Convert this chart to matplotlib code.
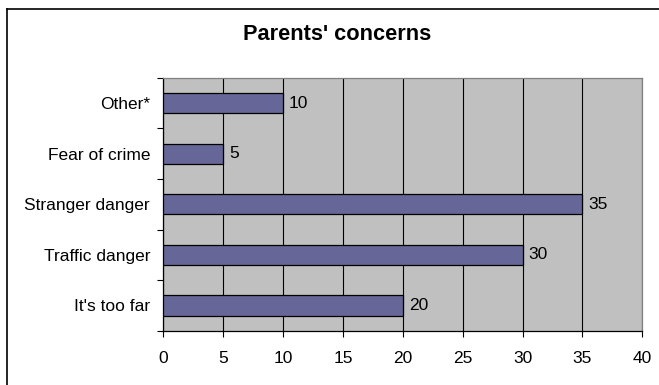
import matplotlib
matplotlib.use('Agg')
import matplotlib.pyplot as plt
from matplotlib.lines import Line2D
import numpy as np

plt.rcParams['font.family'] = ['Liberation Sans', 'DejaVu Sans']

concerns = ["It's too far", 'Traffic danger', 'Stranger danger', 'Fear of crime', 'Other*']
counts = [20, 30, 35, 5, 10]
xticks = [0, 5, 10, 15, 20, 25, 30, 35, 40]

BAR_COLOR = '#666699'
PLOT_BG = '#c0c0c0'
LABEL_SIZE = 12.5

fig = plt.figure(figsize=(6.59, 3.85), dpi=100)
ax = fig.add_axes([0.2478, 0.141, 0.7269, 0.657])
ax.set_facecolor(PLOT_BG)

ypos = np.arange(len(concerns))
ax.barh(ypos, counts, height=0.4, color=BAR_COLOR, edgecolor='black',
        linewidth=0.9, zorder=3)

for y, v in zip(ypos, counts):
    ax.text(v + 0.5, y, str(v), va='center', ha='left', fontsize=LABEL_SIZE, zorder=4)

ax.set_xlim(0, 40)
ax.set_ylim(-0.5, len(concerns) - 0.5)
ax.set_xticks(xticks)
ax.set_xticklabels([str(t) for t in xticks], fontsize=LABEL_SIZE)
ax.set_yticks(ypos)
ax.set_yticklabels(concerns, fontsize=LABEL_SIZE)
ax.set_yticks(np.arange(-0.5, len(concerns)), minor=True)

ax.tick_params(axis='y', which='major', length=0, pad=9.5)
ax.tick_params(axis='y', which='minor', length=4, width=0.8, direction='out')
ax.tick_params(axis='x', which='major', length=4, width=0.8, direction='out', pad=10.5)

ax.xaxis.grid(True, color='black', linewidth=0.8, zorder=1)
ax.set_axisbelow(True)

for side in ['left', 'bottom']:
    ax.spines[side].set_color('black')
    ax.spines[side].set_linewidth(0.9)
for side in ['top', 'right']:
    ax.spines[side].set_color('#808080')
    ax.spines[side].set_linewidth(0.9)

fig.text(337.5 / 659, 1 - 34 / 385, "Parents' concerns", ha='center', va='center',
         fontsize=15.7, fontweight='bold')

# chart frame (only its left and top edges fall inside the image)
fx, fy = 6.5 / 659, 1 - 8.5 / 385
fig.add_artist(Line2D([fx, fx], [0, fy], color='black', linewidth=1.2,
                      transform=fig.transFigure))
fig.add_artist(Line2D([fx, 1], [fy, fy], color='black', linewidth=1.2,
                      transform=fig.transFigure))

fig.savefig('out.png', dpi=100)
